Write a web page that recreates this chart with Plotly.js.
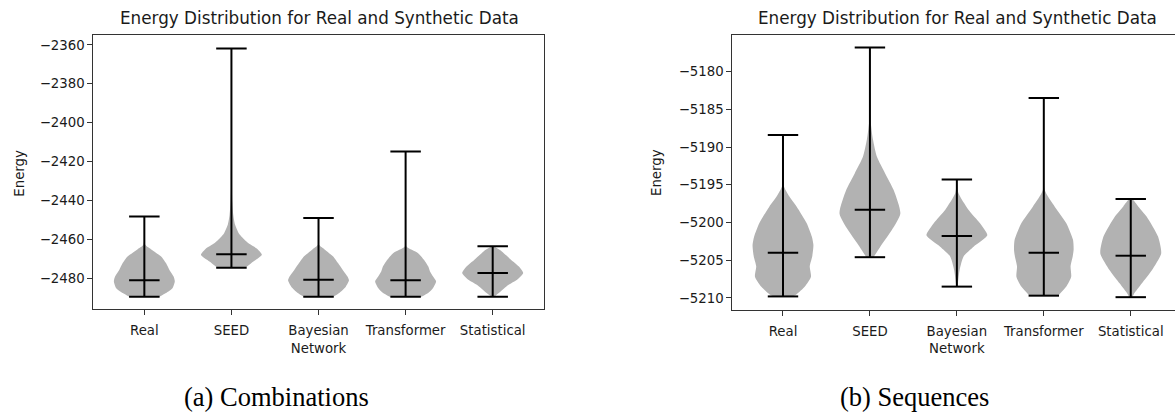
<!DOCTYPE html>
<html>
<head>
<meta charset="utf-8">
<script src="https://cdn.plot.ly/plotly-3.0.1.min.js"></script>
<style>html,body{margin:0;padding:0;background:#fff}#chart{width:1175px;height:414px}</style>
</head>
<body>
<div id="chart"></div>
<script>
// ---- data ----
const categories = ['Real', 'SEED', 'Bayesian<br>Network', 'Transformer', 'Statistical'];
const chartTitle = 'Energy Distribution for Real and Synthetic Data';
const yLabel = 'Energy';
const captions = ['(a) Combinations', '(b) Sequences'];

// (a) Combinations: extrema and medians
const combMin = [-2489.6, -2474.7, -2489.6, -2489.6, -2489.6];
const combMedian = [-2481.2, -2467.7, -2480.9, -2481.2, -2477.4];
const combMax = [-2448.3, -2361.8, -2449.1, -2414.9, -2463.7];
// (a) violin outlines: energy levels and relative density (1 = widest)
const combRealLevels = [-2489.6, -2487.7, -2485.1, -2481.7, -2479.2, -2475.7, -2472.3, -2468.9, -2465.4, -2462.9, -2455, -2448.3];
const combRealDensity = [0.49, 0.71, 0.93, 1.0, 0.96, 0.82, 0.71, 0.55, 0.24, 0.03, 0.005, 0];
const combSeedLevels = [-2474.7, -2471.5, -2468, -2465, -2462, -2459, -2456.9, -2452.6, -2447.4, -2441, -2430, -2361.8];
const combSeedDensity = [0.46, 0.72, 1.0, 0.85, 0.55, 0.35, 0.24, 0.12, 0.06, 0.03, 0.01, 0];
const combBayesLevels = [-2489.6, -2487.7, -2484.3, -2481.2, -2479.2, -2475.7, -2472.3, -2468.9, -2465.4, -2462.9, -2455, -2449.1];
const combBayesDensity = [0.48, 0.68, 0.9, 1.0, 0.95, 0.79, 0.64, 0.48, 0.21, 0.02, 0.005, 0];
const combTransLevels = [-2489.6, -2487.7, -2485.1, -2481.7, -2479.2, -2476.6, -2474, -2470.6, -2467.1, -2463.7, -2450, -2414.9];
const combTransDensity = [0.52, 0.74, 0.9, 1.0, 0.9, 0.8, 0.74, 0.6, 0.4, 0.02, 0.003, 0];
const combStatLevels = [-2489.6, -2487.7, -2484.3, -2482.6, -2480.9, -2477.4, -2474, -2470.6, -2466.3, -2463.7];
const combStatDensity = [0.05, 0.2, 0.45, 0.62, 0.8, 1.0, 0.85, 0.6, 0.3, 0.03];

// (b) Sequences: extrema and medians
const seqMin = [-5209.8, -5204.6, -5208.5, -5209.7, -5209.9];
const seqMedian = [-5204.0, -5198.3, -5201.8, -5204.0, -5204.4];
const seqMax = [-5188.4, -5176.8, -5194.3, -5183.5, -5196.9];
// (b) violin outlines
const seqRealLevels = [-5209.8, -5209.5, -5208.5, -5207.2, -5205.8, -5204.5, -5203.0, -5201.9, -5200.1, -5197.9, -5196.5, -5195.2, -5192, -5188.4];
const seqRealDensity = [0.3, 0.45, 0.72, 0.92, 0.88, 0.96, 1.0, 0.95, 0.78, 0.45, 0.2, 0.03, 0.005, 0];
const seqSeedLevels = [-5204.6, -5203.2, -5201, -5198.8, -5195.7, -5193.5, -5191.3, -5189, -5186.8, -5183, -5176.8];
const seqSeedDensity = [0.12, 0.34, 0.72, 1.0, 0.78, 0.5, 0.23, 0.1, 0.03, 0.01, 0];
const seqBayesLevels = [-5208.5, -5206.3, -5204.5, -5203.2, -5201.7, -5200.1, -5198.3, -5196.1, -5194.3];
const seqBayesDensity = [0.02, 0.09, 0.22, 0.55, 1.0, 0.76, 0.38, 0.05, 0];
const seqTransLevels = [-5209.7, -5208.5, -5207.2, -5205.8, -5204.5, -5203.6, -5202.3, -5200.1, -5197.9, -5195.7, -5190, -5183.5];
const seqTransDensity = [0.47, 0.74, 0.9, 0.88, 0.95, 0.98, 0.96, 0.74, 0.36, 0.03, 0.005, 0];
const seqStatLevels = [-5209.9, -5209.5, -5208.1, -5206.3, -5204.1, -5201.9, -5199.2, -5197.9, -5196.9];
const seqStatDensity = [0.05, 0.1, 0.36, 0.7, 1.0, 0.9, 0.52, 0.25, 0.05];

// ---- styling ----
const VIOLIN_WIDTH = 0.7;          // full width of a violin in category units
const CAP_HALF = VIOLIN_WIDTH / 4; // half-length of min / max / median bars
const FILL = '#b2b2b2';
const FONT = 'DejaVu Sans, sans-serif';

function violinTraces(levelsList, densityList, mins, medians, maxs, xa, ya) {
  const traces = [];
  levelsList.forEach((levels, i) => {
    const pos = i + 1;
    const dens = densityList[i];
    const half = VIOLIN_WIDTH / 2;
    const xs = [], ys = [];
    for (let k = 0; k < levels.length; k++) { xs.push(pos + dens[k] * half); ys.push(levels[k]); }
    for (let k = levels.length - 1; k >= 0; k--) { xs.push(pos - dens[k] * half); ys.push(levels[k]); }
    traces.push({
      type: 'scatter', mode: 'lines', x: xs, y: ys, xaxis: xa, yaxis: ya,
      fill: 'toself', fillcolor: FILL, line: {width: 0, color: FILL, shape: 'spline', smoothing: 0.6},
      hoverinfo: 'skip', showlegend: false
    });
  });
  const lx = [], ly = [];
  mins.forEach((mn, i) => {
    const pos = i + 1;
    lx.push(pos, pos, null); ly.push(mn, maxs[i], null);
    [mn, medians[i], maxs[i]].forEach(v => { lx.push(pos - CAP_HALF, pos + CAP_HALF, null); ly.push(v, v, null); });
  });
  traces.push({
    type: 'scatter', mode: 'lines', x: lx, y: ly, xaxis: xa, yaxis: ya,
    line: {color: '#000', width: 2}, hoverinfo: 'skip', showlegend: false, connectgaps: false
  });
  return traces;
}

const data = [].concat(
  violinTraces([combRealLevels, combSeedLevels, combBayesLevels, combTransLevels, combStatLevels],
               [combRealDensity, combSeedDensity, combBayesDensity, combTransDensity, combStatDensity],
               combMin, combMedian, combMax, 'x', 'y'),
  violinTraces([seqRealLevels, seqSeedLevels, seqBayesLevels, seqTransLevels, seqStatLevels],
               [seqRealDensity, seqSeedDensity, seqBayesDensity, seqTransDensity, seqStatDensity],
               seqMin, seqMedian, seqMax, 'x2', 'y2')
);

const W = 1175, H = 414;
const px = v => v / W;
const py = v => 1 - v / H;
const tickFont = {family: FONT, size: 13.3, color: '#1a1a1a'};
const axisCommon = {
  showgrid: false, zeroline: false, showline: true, linecolor: '#333', linewidth: 1,
  ticks: 'outside', ticklen: 5, tickwidth: 1, tickcolor: '#333', tickfont: tickFont, fixedrange: true
};
const catVals = categories.map((c, i) => i + 1);

const layout = {
  width: W, height: H, margin: {l: 0, r: 0, t: 0, b: 0},
  paper_bgcolor: '#fff', plot_bgcolor: '#fff', showlegend: false,
  font: {family: FONT, color: '#1a1a1a'},
  xaxis: Object.assign({}, axisCommon, {domain: [px(93.3), px(544)], range: [0.414, 5.589], mirror: true,
          tickmode: 'array', tickvals: catVals, ticktext: categories, anchor: 'y', ticklabelstandoff: 4}),
  yaxis: Object.assign({}, axisCommon, {domain: [py(309.3), py(35)], range: [-2496.1, -2354.9], mirror: true,
          tick0: -2360, dtick: 20, anchor: 'x'}),
  xaxis2: Object.assign({}, axisCommon, {domain: [px(732.3), 1], range: [0.417, 5.509], mirror: true,
          tickmode: 'array', tickvals: catVals, ticktext: categories, anchor: 'y2', ticklabelstandoff: 4}),
  yaxis2: Object.assign({}, axisCommon, {domain: [py(310), py(35)], range: [-5211.6, -5175.15], mirror: false,
          tick0: -5180, dtick: 5, anchor: 'x2'}),
  annotations: [
    {text: chartTitle, xref: 'paper', yref: 'paper', x: px(319), y: py(18), xanchor: 'center', yanchor: 'middle',
     showarrow: false, font: {family: FONT, size: 16.8, color: '#1a1a1a'}},
    {text: chartTitle, xref: 'paper', yref: 'paper', x: px(957), y: py(18), xanchor: 'center', yanchor: 'middle',
     showarrow: false, font: {family: FONT, size: 16.8, color: '#1a1a1a'}},
    {text: yLabel, xref: 'paper', yref: 'paper', x: px(18.7), y: py(173), xanchor: 'center', yanchor: 'middle',
     textangle: -90, showarrow: false, font: {family: FONT, size: 13.3, color: '#1a1a1a'}},
    {text: yLabel, xref: 'paper', yref: 'paper', x: px(656), y: py(173), xanchor: 'center', yanchor: 'middle',
     textangle: -90, showarrow: false, font: {family: FONT, size: 13.3, color: '#1a1a1a'}},
    {text: captions[0], xref: 'paper', yref: 'paper', x: px(276.7), y: py(397), xanchor: 'center', yanchor: 'middle',
     showarrow: false, font: {family: 'Liberation Serif, Times New Roman, serif', size: 26.5, color: '#000'}},
    {text: captions[1], xref: 'paper', yref: 'paper', x: px(914.5), y: py(397), xanchor: 'center', yanchor: 'middle',
     showarrow: false, font: {family: 'Liberation Serif, Times New Roman, serif', size: 26.5, color: '#000'}}
  ]
};

Plotly.newPlot('chart', data, layout, {staticPlot: true, displayModeBar: false});
</script>
</body>
</html>
